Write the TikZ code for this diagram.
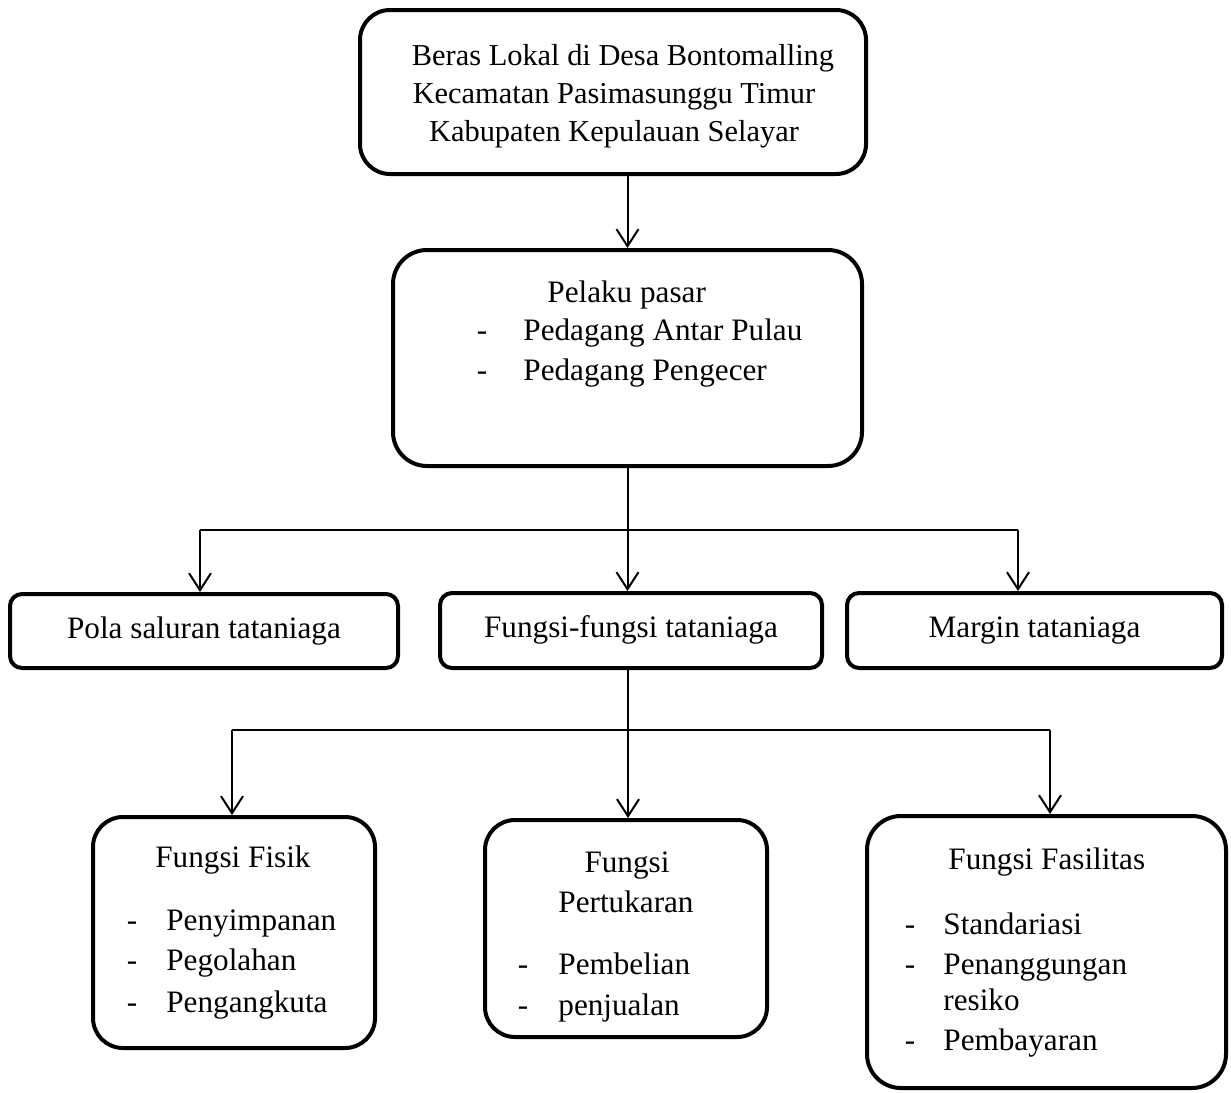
\documentclass[tikz,border=0pt]{standalone}
\usepackage{fontspec}
\setmainfont{Liberation Serif}
\usetikzlibrary{arrows.meta}
\tikzset{
  box/.style={draw, line width=2pt, rounded corners=#1, inner sep=0pt},
  box/.default=15pt,
  txt/.style={inner sep=0pt, font=\fontsize{15.6}{19.5}\selectfont, text height=10.9pt, text depth=3.9pt},
  toptxt/.style={txt, font=\fontsize{15.2}{19.5}\selectfont},
  arr/.style={line width=1pt, -{Straight Barb[length=8.5pt,width=11pt,line width=1pt]}},
  ln/.style={line width=1pt}
}
\begin{document}
\begin{tikzpicture}[x=0.5pt,y=-0.5pt]
\useasboundingbox (0,0) rectangle (1231,1092);
% boxes
\node[box=15pt, minimum width=253pt, minimum height=82pt] (top) at (613,92) {};
\node[box=17pt, minimum width=234.5pt, minimum height=108pt] (pelaku) at (627.5,358) {};
\node[box=6pt, minimum width=194pt, minimum height=37pt, txt] (pola) at (204,631) {Pola saluran tataniaga};
\node[box=6pt, minimum width=191pt, minimum height=37.5pt, txt] (ff) at (631,630.5) {Fungsi-fungsi tataniaga};
\node[box=6pt, minimum width=187.5pt, minimum height=37.5pt, txt] (margin) at (1034.5,630.5) {Margin tataniaga};
\node[box=15pt, minimum width=141pt, minimum height=115.5pt] (fisik) at (234,932.5) {};
\node[box=15pt, minimum width=141pt, minimum height=108.5pt] (tukar) at (626,928.5) {};
\node[box=17pt, minimum width=179.5pt, minimum height=136pt] (fasil) at (1046.5,952) {};
% top text
\node[toptxt] (top1) at (623,58) {Beras Lokal di Desa Bontomalling};
\node[toptxt] (top2) at (614,96) {Kecamatan Pasimasunggu Timur};
\node[toptxt] (top3) at (614,134) {Kabupaten Kepulauan Selayar};
% pelaku text
\node[txt, anchor=west] (pl0) at (547,295) {Pelaku pasar};
\node[txt] (pld1) at (482,333) {-};
\node[txt, anchor=west] (pl1) at (523,333) {Pedagang Antar Pulau};
\node[txt] (pld2) at (482,373) {-};
\node[txt, anchor=west] (pl2) at (523,373) {Pedagang Pengecer};
% fisik text
\node[txt, anchor=west] (fi0) at (155,860) {Fungsi Fisik};
\node[txt] (fid1) at (132,923) {-};
\node[txt, anchor=west] (fi1) at (166,923) {Penyimpanan};
\node[txt] (fid2) at (132,963) {-};
\node[txt, anchor=west] (fi2) at (166,963) {Pegolahan};
\node[txt] (fid3) at (132,1005) {-};
\node[txt, anchor=west] (fi3) at (166,1005) {Pengangkuta};
% pertukaran text
\node[txt] (tu0) at (627,865) {Fungsi};
\node[txt] (tu1) at (626,905) {Pertukaran};
\node[txt] (tud1) at (523,967) {-};
\node[txt, anchor=west] (tu2) at (558,967) {Pembelian};
\node[txt] (tud2) at (523,1008) {-};
\node[txt, anchor=west] (tu3) at (558,1008) {penjualan};
% fasilitas text
\node[txt, anchor=west] (fa0) at (948,862) {Fungsi Fasilitas};
\node[txt] (fad1) at (910,927) {-};
\node[txt, anchor=west] (fa1) at (943,927) {Standariasi};
\node[txt] (fad2) at (910,967) {-};
\node[txt, anchor=west] (fa2) at (943,967) {Penanggungan};
\node[txt, anchor=west] (fa3) at (943,1003) {resiko};
\node[txt] (fad3) at (910,1043) {-};
\node[txt, anchor=west] (fa4) at (943,1043) {Pembayaran};
% connectors
\draw[arr] (top.south -| pelaku.north) -- (pelaku.north);
\coordinate (j1) at (627.5,530);
\coordinate (jL) at (200,530);
\coordinate (jR) at (1018,530);
\draw[ln] (jL) -- (jR);
\draw[arr] (pelaku.south) -- (pelaku.south |- ff.north);
\draw[arr] (jL) -- (jL |- pola.north);
\draw[arr] (jR) -- (jR |- margin.north);
\coordinate (j2) at (628,730);
\coordinate (kL) at (232,730);
\coordinate (kR) at (1050,730);
\draw[ln] (kL) -- (kR);
\draw[arr] (ff.south -| j2) -- (j2 |- tukar.north);
\draw[arr] (kL) -- (kL |- fisik.north);
\draw[arr] (kR) -- (kR |- fasil.north);
\end{tikzpicture}
\end{document}
